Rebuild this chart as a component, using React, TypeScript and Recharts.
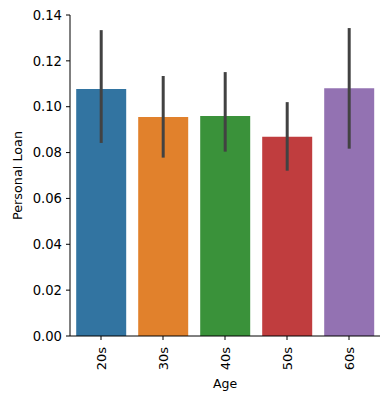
import React from 'react';
import { BarChart, Bar, XAxis, YAxis, Cell, ErrorBar } from 'recharts';

const ageGroups = ['20s', '30s', '40s', '50s', '60s'];
const loanRate = [0.1077, 0.0955, 0.0959, 0.0869, 0.1081];
const ciLow = [0.0842, 0.0778, 0.0804, 0.0721, 0.0817];
const ciHigh = [0.1334, 0.1134, 0.1151, 0.102, 0.1343];
const barColors = ['#3274a1', '#e1812c', '#3a923a', '#c03d3e', '#9372b2'];
const yTicks = [0, 0.02, 0.04, 0.06, 0.08, 0.1, 0.12, 0.14];

const chartData = ageGroups.map((age, i) => ({
  age,
  loan: loanRate[i],
  err: [loanRate[i] - ciLow[i], ciHigh[i] - loanRate[i]],
}));

const font = '"DejaVu Sans", sans-serif';

const RotatedTick = (props: any) => {
  const { x, y, payload } = props;
  const ty = y + 5;
  return (
    <text
      x={x}
      y={ty}
      transform={`rotate(-90, ${x}, ${ty})`}
      textAnchor="end"
      dominantBaseline="central"
      fontSize={13}
      fontFamily={font}
      fill="#000"
    >
      {payload.value}
    </text>
  );
};

export default function App() {
  return (
    <div style={{ position: 'absolute', left: 0, top: 0, background: '#fff' }}>
      <BarChart
        width={390}
        height={400}
        data={chartData}
        margin={{ top: 15, right: 10, bottom: 0, left: 0 }}
        barCategoryGap="10%"
      >
        <XAxis
          dataKey="age"
          height={64}
          tickSize={4}
          tick={<RotatedTick />}
          axisLine={{ stroke: '#000' }}
          tickLine={{ stroke: '#000' }}
          interval={0}
          label={{
            value: 'Age',
            position: 'insideBottom',
            offset: 12,
            style: { fontSize: 12.5, fontFamily: font, fill: '#000' },
          }}
        />
        <YAxis
          width={70}
          domain={[0, 0.14]}
          ticks={yTicks}
          tickFormatter={(v: number) => v.toFixed(2)}
          tickSize={4}
          tickMargin={4}
          tick={{ fontSize: 13.2, fontFamily: font, fill: '#000' }}
          axisLine={{ stroke: '#000' }}
          tickLine={{ stroke: '#000' }}
          label={{
            value: 'Personal Loan',
            angle: -90,
            position: 'insideLeft',
            offset: 17,
            style: { fontSize: 12.8, fontFamily: font, fill: '#000', textAnchor: 'middle' },
          }}
        />
        <Bar dataKey="loan" isAnimationActive={false}>
          {chartData.map((d, i) => (
            <Cell key={d.age} fill={barColors[i]} />
          ))}
          <ErrorBar dataKey="err" width={0} stroke="#424242" strokeWidth={3} direction="y" />
        </Bar>
      </BarChart>
    </div>
  );
}
